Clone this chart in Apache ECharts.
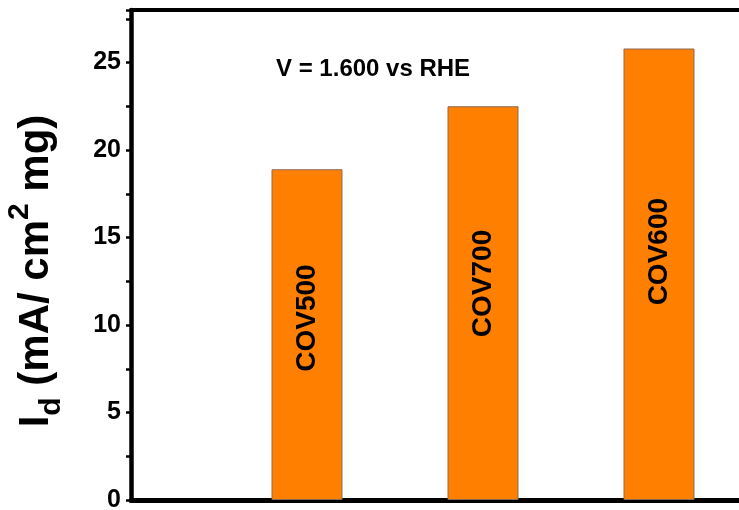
<!DOCTYPE html>
<html>
<head>
<meta charset="utf-8">
<script src="https://cdn.jsdelivr.net/npm/echarts@6/dist/echarts.min.js"></script>
<style>html,body{margin:0;padding:0;background:#fff;}#c{width:739px;height:510px;}</style>
</head>
<body>
<div id="c"></div>
<script>
const categories = ['COV500', 'COV700', 'COV600'];
const positions = [1, 2, 3];
const values = [18.9, 22.5, 25.8];
const yTicks = [0, 5, 10, 15, 20, 25];
const annotation = 'V = 1.600 vs RHE';

const FONT = '"Liberation Sans", Arial, sans-serif';
const chart = echarts.init(document.getElementById('c'), null, {renderer: 'canvas'});
const data = values.map((v, i) => ({value: [positions[i], v], name: categories[i]}));

chart.setOption({
  animation: false,
  backgroundColor: '#ffffff',
  title: {
    text: annotation,
    left: 271, top: 52,
    textStyle: {fontFamily: FONT, fontWeight: 'bold', fontSize: 24, color: '#000'}
  },
  grid: {left: 131, right: 0, top: 10, bottom: 10, containLabel: false, outerBoundsMode: 'none'},
  xAxis: [{
    type: 'value', min: 0, max: 3.4545,
    axisLine: {show: true, lineStyle: {color: '#000', width: 5}},
    axisTick: {show: false}, axisLabel: {show: false}, splitLine: {show: false}
  }, {
    type: 'value', min: 0, max: 3.4545, position: 'top',
    axisLine: {show: true, lineStyle: {color: '#000', width: 4}},
    axisTick: {show: false}, axisLabel: {show: false}, splitLine: {show: false}
  }],
  yAxis: {
    type: 'value', min: 0, max: 28, interval: 2.5,
    axisLine: {show: true, lineStyle: {color: '#000', width: 4.5}},
    axisTick: {show: true, length: 5, lineStyle: {color: '#000', width: 2.5}},
    splitLine: {show: false},
    axisLabel: {
      margin: 10,
      fontFamily: FONT, fontWeight: 'bold', fontSize: 25, color: '#000',
      formatter: v => (yTicks.indexOf(v) >= 0 ? String(v) : '')
    },
    name: '{b|I}{sub|d}{b| (mA/ cm}{sup|2}{b| mg)}',
    nameLocation: 'middle',
    nameGap: 70,
    nameTextStyle: {
      padding: [0, 32, 0, 0],
      rich: {
        b: {fontFamily: FONT, fontWeight: 'bold', fontSize: 42, color: '#000', lineHeight: 50},
        sub: {fontFamily: FONT, fontWeight: 'bold', fontSize: 30, color: '#000', lineHeight: 50, verticalAlign: 'bottom', padding: [0, 0, -6, 0]},
        sup: {fontFamily: FONT, fontWeight: 'bold', fontSize: 30, color: '#000', lineHeight: 50, verticalAlign: 'top', padding: [-6, 0, 0, 0]}
      }
    }
  },
  series: [{
    type: 'bar',
    xAxisIndex: 0,
    data: data,
    barWidth: 71,
    itemStyle: {color: '#ff8000', borderColor: '#8a6a55', borderWidth: 1},
    label: {
      show: true,
      position: ['50%', '45%'],
      rotate: 90,
      align: 'center',
      verticalAlign: 'middle',
      formatter: p => p.name,
      fontFamily: FONT, fontWeight: 'bold', fontSize: 28, color: '#000'
    }
  }]
});
</script>
</body>
</html>
